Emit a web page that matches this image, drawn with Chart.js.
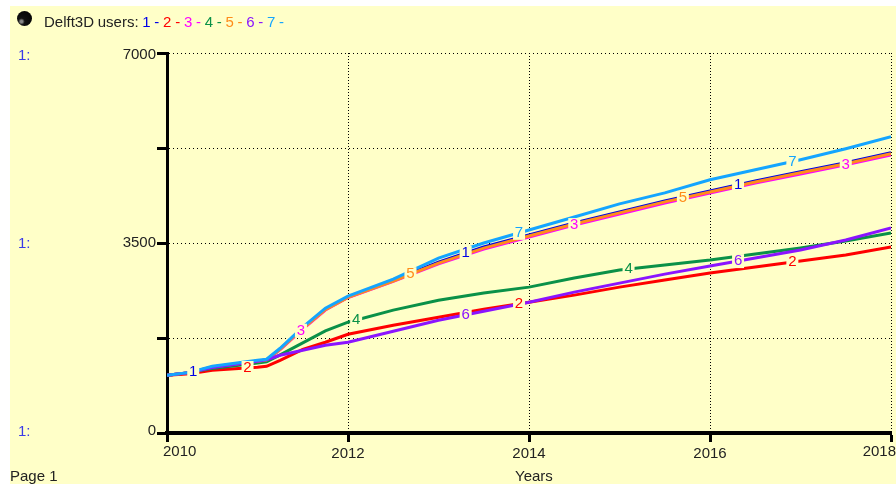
<!DOCTYPE html>
<html>
<head>
<meta charset="utf-8">
<title>Delft3D users</title>
<script src="https://cdn.jsdelivr.net/npm/chart.js@4/dist/chart.umd.js"></script>
<style>
html, body { margin: 0; padding: 0; background: #fff; }
#wrap { position: relative; width: 896px; height: 484px; overflow: hidden; font-family: "Liberation Sans", Arial, sans-serif; color: #222; }
#chart { position: absolute; left: 0; top: 0; }
.txt { position: absolute; font-size: 15px; line-height: 16px; white-space: pre; }
#ball { position: absolute; left: 17px; top: 11px; width: 15px; height: 15px; border-radius: 50%; background: radial-gradient(circle at 30% 70%, #888 0 8%, #111 22%, #000 100%); }
.axis1 { color: #3a3ae8; left: 18px; }
</style>
</head>
<body>
<div id="wrap">
  <canvas id="chart" width="896" height="484"></canvas>
  <div id="ball"></div>
  <div class="txt" id="legend" style="left:44px;top:14px;word-spacing:-0.45px"></div>
  <div class="txt axis1" style="top:47px">1:</div>
  <div class="txt axis1" style="top:235px">1:</div>
  <div class="txt axis1" style="top:423px">1:</div>
  <div class="txt" style="left:10px;top:468px">Page 1</div>
  <div class="txt" style="left:515px;top:468px">Years</div>
</div>
<script>
const years = [2010, 2010.25, 2010.5, 2011, 2011.1, 2011.25, 2011.5, 2011.75, 2012, 2012.5, 2013, 2013.5, 2014, 2014.5, 2015, 2015.5, 2016, 2016.5, 2017, 2017.5, 2018];

const users1 = [1062, 1110, 1215, 1325, 1345, 1545, 1930, 2280, 2503, 2817, 3149, 3426, 3648, 3869, 4073, 4276, 4460, 4645, 4811, 4978, 5162];
const users2 = [1062, 1090, 1154, 1210, 1228, 1339, 1542, 1672, 1819, 1986, 2133, 2281, 2410, 2540, 2687, 2817, 2946, 3057, 3168, 3278, 3426];
const users3 = [1062, 1112, 1212, 1320, 1340, 1537, 1915, 2265, 2495, 2795, 3115, 3390, 3610, 3830, 4035, 4235, 4420, 4605, 4770, 4940, 5120];
const users4 = [1062, 1112, 1190, 1290, 1310, 1440, 1660, 1880, 2041, 2263, 2447, 2577, 2687, 2854, 3001, 3094, 3186, 3297, 3408, 3537, 3685];
const users5 = [1062, 1112, 1214, 1322, 1342, 1542, 1925, 2272, 2497, 2800, 3130, 3405, 3630, 3850, 4055, 4258, 4440, 4625, 4793, 4960, 5145];
const users6 = [1062, 1112, 1205, 1320, 1350, 1431, 1524, 1616, 1672, 1875, 2078, 2244, 2410, 2595, 2761, 2927, 3075, 3223, 3371, 3555, 3777];
const users7 = [1062, 1117, 1228, 1339, 1358, 1561, 1950, 2300, 2521, 2835, 3223, 3500, 3740, 3980, 4220, 4423, 4664, 4848, 5033, 5236, 5458];

const seriesValues = [users1, users2, users3, users4, users5, users6, users7];
const seriesNames = ['1', '2', '3', '4', '5', '6', '7'];
const seriesColors = ['#0000e6', '#ff0000', '#ff00ff', '#0a9148', '#ff8c1a', '#8a14ff', '#14a5ff'];

// years where each curve carries its number
const labelYears = [
    [2010.29, 2013.3, 2016.31],
    [2010.89, 2013.89, 2016.91],
    [2011.48, 2014.5, 2017.5],
    [2012.09, 2015.1],
    [2012.69, 2015.7],
    [2013.3, 2016.31],
    [2013.89, 2016.91]
];

const yTickLabels = { 3500: '3500' };
const PANEL = '#ffffc8';
const FONT = '15px "Liberation Sans", Arial, sans-serif';

// legend row
const legend = document.getElementById('legend');
legend.appendChild(document.createTextNode('Delft3D users: '));
seriesNames.forEach((name, i) => {
    const s = document.createElement('span');
    s.style.color = seriesColors[i];
    s.textContent = name + ' - ';
    legend.appendChild(s);
});

function valueAt(values, year) {
    for (let i = 1; i < years.length; i++) {
        if (year <= years[i]) {
            const t = (year - years[i - 1]) / (years[i] - years[i - 1]);
            return values[i - 1] + t * (values[i] - values[i - 1]);
        }
    }
    return values[values.length - 1];
}

const panelBackground = {
    id: 'panelBackground',
    beforeDraw(chart) {
        const ctx = chart.ctx;
        ctx.save();
        ctx.fillStyle = PANEL;
        ctx.fillRect(10, 6, 886, 478);
        ctx.restore();
    }
};

// numbers sitting on the curves, with a small gap cut in the lines
const curveNumbers = {
    id: 'curveNumbers',
    afterDatasetsDraw(chart) {
        const ctx = chart.ctx;
        const xs = chart.scales.x;
        const ys = chart.scales.y;
        ctx.save();
        ctx.font = FONT;
        ctx.textAlign = 'center';
        ctx.textBaseline = 'middle';
        labelYears.forEach((list, i) => {
            list.forEach(year => {
                const px = xs.getPixelForValue(year);
                const py = ys.getPixelForValue(valueAt(seriesValues[i], year));
                ctx.fillStyle = PANEL;
                ctx.fillRect(px - 6, py - 7, 12, 14);
                ctx.fillStyle = seriesColors[i];
                ctx.fillText(seriesNames[i], px, py);
            });
        });
        ctx.restore();
    }
};

// first and last tick labels are pulled in at the ends of the axes
const edgeLabels = {
    id: 'edgeLabels',
    afterDraw(chart) {
        const ctx = chart.ctx;
        const xs = chart.scales.x;
        const ys = chart.scales.y;
        ctx.save();
        ctx.font = FONT;
        ctx.fillStyle = '#222';
        ctx.textBaseline = 'middle';
        ctx.textAlign = 'left';
        ctx.fillText('2010', xs.getPixelForValue(2010) - 4, ys.bottom + 19);
        ctx.textAlign = 'right';
        ctx.fillText('2018', xs.getPixelForValue(2018) + 5, ys.bottom + 19);
        ctx.fillText('7000', xs.left - 11, ys.getPixelForValue(7000) + 2);
        ctx.fillText('0', xs.left - 11, ys.getPixelForValue(0) - 2);
        ctx.restore();
    }
};

new Chart(document.getElementById('chart'), {
    type: 'line',
    data: {
        datasets: seriesValues.map((values, i) => ({
            label: seriesNames[i],
            data: values.map((v, k) => ({ x: years[k], y: v })),
            borderColor: seriesColors[i],
            borderWidth: 3,
            pointRadius: 0,
            tension: 0,
            order: 7 - i
        }))
    },
    options: {
        responsive: false,
        animation: false,
        layout: { padding: { left: 0, right: 5, top: 53, bottom: 0 } },
        plugins: { legend: { display: false }, tooltip: { enabled: false } },
        scales: {
            x: {
                type: 'linear',
                min: 2010,
                max: 2018,
                afterFit(scale) {
                    scale.height = 51;
                    scale.paddingLeft = 0;
                    scale.paddingRight = 0;
                },
                border: { width: 4, color: '#000', dash: [1, 2] },
                grid: { color: '#000', lineWidth: 1, tickColor: '#000', tickWidth: 3, tickLength: 9, tickBorderDash: [] },
                ticks: {
                    stepSize: 2,
                    maxRotation: 0,
                    padding: 3,
                    color: '#222',
                    font: { family: '"Liberation Sans", Arial, sans-serif', size: 15 },
                    callback: v => (v === 2010 || v === 2018 ? '' : String(v))
                }
            },
            y: {
                min: 0,
                max: 7000,
                afterFit(scale) {
                    scale.width = 167;
                    scale.paddingTop = 0;
                    scale.paddingBottom = 0;
                },
                border: { width: 3, color: '#000', dash: [1, 3] },
                grid: { color: '#000', lineWidth: 1, tickColor: '#000', tickWidth: 3, tickLength: 10, tickBorderDash: [] },
                ticks: {
                    stepSize: 1750,
                    padding: 1,
                    color: '#222',
                    font: { family: '"Liberation Sans", Arial, sans-serif', size: 15 },
                    callback: v => yTickLabels[v] || ''
                }
            }
        }
    },
    plugins: [panelBackground, curveNumbers, edgeLabels]
});
</script>
</body>
</html>
